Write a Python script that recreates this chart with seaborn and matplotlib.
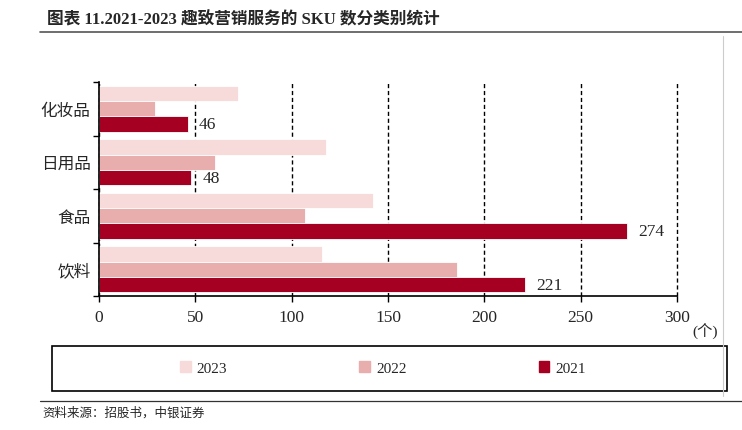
import matplotlib.pyplot as plt
import numpy as np
import pandas as pd
import seaborn as sns
from matplotlib.patches import Rectangle
from matplotlib.lines import Line2D

categories = ["化妆品", "日用品", "食品", "饮料"]
years = ["2023", "2022", "2021"]
sku_2023 = [72, 118, 142, 116]
sku_2022 = [29, 60, 107, 186]
sku_2021 = [46, 48, 274, 221]

colors = {"2023": "#F7DADA", "2022": "#E8AEAD", "2021": "#A50021"}

df = pd.DataFrame({
    "category": categories * 3,
    "year": ["2023"] * 4 + ["2022"] * 4 + ["2021"] * 4,
    "value": sku_2023 + sku_2022 + sku_2021,
})

sns.set_style("white")
plt.rcParams["font.family"] = ["Liberation Serif", "Noto Sans CJK SC"]

fig = plt.figure(figsize=(7.42, 4.31), dpi=100)
ax = fig.add_axes([99 / 742, 1 - 297 / 431, 578 / 742, 214 / 431])

ax.set_axisbelow(True)
sns.barplot(data=df, y="category", x="value", hue="year", order=categories,
            hue_order=years, palette=colors, orient="h", width=0.86,
            edgecolor="white", linewidth=0.6, saturation=1, legend=False, ax=ax)

# value labels only for 2021
bars_2021 = ax.containers[2]
ax.bar_label(bars_2021, labels=[str(v) for v in sku_2021], padding=8, fontsize=12.5)

ax.set_xlim(0, 300)
ax.set_ylim(3.5, -0.5)
ax.set_xticks(np.arange(0, 301, 50))
ax.tick_params(axis="x", labelsize=12.5, direction="out", length=4, width=1,
               bottom=True, color="black", pad=5)
ax.xaxis.grid(True, linestyle=(0, (3, 2)), color="black", linewidth=1)
for gl in ax.get_xgridlines():
    gl.set_clip_on(False)
ax.yaxis.grid(False)

ax.set_yticks(range(len(categories)))
ax.set_yticklabels(categories, fontsize=12)
ax.tick_params(axis="y", which="major", length=0, pad=6)
ax.set_yticks(np.arange(-0.5, 4, 1), minor=True)
ax.tick_params(axis="y", which="minor", left=True, direction="out", length=4,
               width=1, color="black")
ax.set_xlabel("")
ax.set_ylabel("")
for s in ["top", "right"]:
    ax.spines[s].set_visible(False)
for s in ["left", "bottom"]:
    ax.spines[s].set_color("black")
    ax.spines[s].set_linewidth(1.2)

fig.text(692 / 742, 1 - 331 / 431, "(个)", fontsize=11, va="center")

# legend in a framed box
fig.patches.append(Rectangle((52 / 742, 1 - 392 / 431), 675 / 742, 45 / 431,
                             transform=fig.transFigure, fill=False,
                             edgecolor="black", linewidth=1.2))
handles = [Rectangle((0, 0), 1, 1, color=colors[y]) for y in years]
fig.legend(handles, years, loc="center", bbox_to_anchor=(383 / 742, 1 - 369 / 431),
           ncol=3, frameon=False, fontsize=11, columnspacing=8.65,
           handlelength=0.7, handleheight=0.7, handletextpad=0.4)

# title and decorations
fig.text(47 / 742, 1 - 20 / 431, "图表 11.2021-2023 趣致营销服务的 SKU 数分类别统计",
         fontsize=12, fontweight="bold", va="center")
fig.add_artist(Line2D([40 / 742, 1], [1 - 33 / 431] * 2, color="#555555",
                      linewidth=1.2, transform=fig.transFigure))
fig.add_artist(Line2D([723 / 742] * 2, [1 - 37 / 431, 1 - 397 / 431],
                      color="#cccccc", linewidth=0.8, transform=fig.transFigure))
fig.add_artist(Line2D([40 / 742, 1], [1 - 402 / 431] * 2, color="#333333",
                      linewidth=0.9, transform=fig.transFigure))
fig.text(42 / 742, 1 - 413 / 431, "资料来源：招股书，中银证券", fontsize=9,
         va="center", family=["Noto Sans CJK SC"], style="italic")

fig.savefig("out.png", dpi=100)
